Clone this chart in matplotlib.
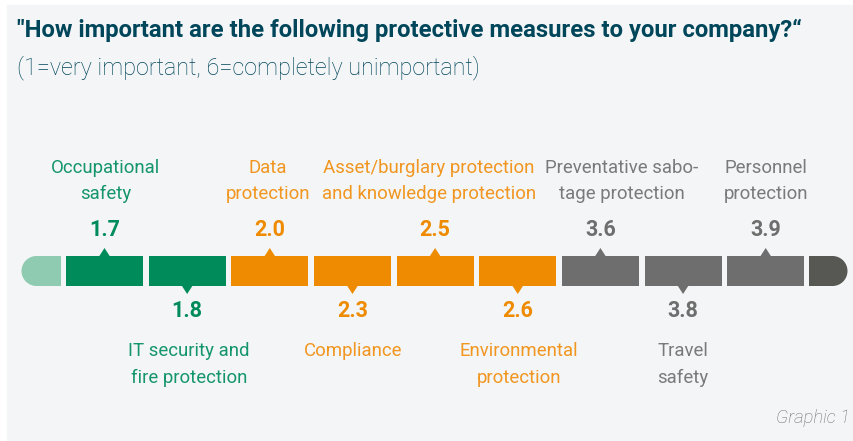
import matplotlib
matplotlib.use("Agg")
import matplotlib.pyplot as plt
from matplotlib.patches import Rectangle, Wedge, Polygon
import numpy as np

# ---- data ----
categories = [
    "Occupational\nsafety",
    "IT security and\nfire protection",
    "Data\nprotection",
    "Compliance",
    "Asset/burglary protection\nand knowledge protection",
    "Environmental\nprotection",
    "Preventative sabo-\ntage protection",
    "Travel\nsafety",
    "Personnel\nprotection",
]
values = [1.7, 1.8, 2.0, 2.3, 2.5, 2.6, 3.6, 3.8, 3.9]
groups = ["green", "green", "orange", "orange", "orange", "orange", "grey", "grey", "grey"]
title = "\"How important are the following protective measures to your company?\u201c"
subtitle = "(1=very important, 6=completely unimportant)"
footnote = "Graphic 1"

# ---- style ----
seg_colors = {"green": "#008B5A", "orange": "#EE8B00", "grey": "#6E6E6E"}
txt_colors = {"green": "#15966A", "orange": "#F19620", "grey": "#7A7A7A"}
cap_left_color = "#8FCBB0"
cap_right_color = "#575754"
bg = "#F4F5F7"
title_color = "#00465A"

X0, PITCH, W = 66.0, 82.65, 77.0
BAR_TOP, BAR_H = 256.0, 30.0
label_dx = [1, 2, -2, 1, -6, 1, 21, 0, 0]

LABEL_FONT = ["Roboto", "DejaVu Sans"]

fig = plt.figure(figsize=(8.54, 4.41), dpi=100, facecolor="white")
ax = fig.add_axes([0, 0, 1, 1])
ax.set_xlim(0, 854)
ax.set_ylim(441, 0)
ax.axis("off")

ax.add_patch(Rectangle((7, 5), 847, 436, color=bg, zorder=0))

xs = X0 + PITCH * np.arange(len(values))
cols = [seg_colors[g] for g in groups]
ax.bar(xs, BAR_H, width=W, bottom=BAR_TOP, align="edge", color=cols, zorder=2)

yc = BAR_TOP + BAR_H / 2
r = BAR_H / 2
# left cap
ax.add_patch(Rectangle((36, BAR_TOP), 25, BAR_H, color=cap_left_color, zorder=2, lw=0))
ax.add_patch(Wedge((36.5, yc), r, 90, 270, color=cap_left_color, zorder=2, lw=0))
# right cap
ax.add_patch(Rectangle((809, BAR_TOP), 24, BAR_H, color=cap_right_color, zorder=2, lw=0))
ax.add_patch(Wedge((832.5, yc), r, -90, 90, color=cap_right_color, zorder=2, lw=0))

for i, (x, v, g, cat) in enumerate(zip(xs, values, groups, categories)):
    cx = x + W / 2
    up = (i % 2 == 0)
    if up:
        tri = [(cx - 5.5, BAR_TOP + 0.5), (cx + 5.5, BAR_TOP + 0.5), (cx, BAR_TOP - 8)]
        vy = 230
        ly = [168, 194]
    else:
        tri = [(cx - 5.5, BAR_TOP + BAR_H - 0.5), (cx + 5.5, BAR_TOP + BAR_H - 0.5), (cx, BAR_TOP + BAR_H + 8)]
        vy = 311
        ly = [351, 378]
    ax.add_patch(Polygon(tri, closed=True, color=seg_colors[g], zorder=3, lw=0))
    ax.text(cx, vy, f"{v:.1f}", ha="center", va="center", fontsize=15.5,
            fontweight="bold", color=seg_colors[g], family=LABEL_FONT)
    for j, line in enumerate(cat.split("\n")):
        ax.text(cx + label_dx[i], ly[j], line, ha="center", va="center",
                fontsize=13.4, fontweight="normal", color=txt_colors[g], family=LABEL_FONT)

ax.text(17, 30, title, ha="left", va="center", fontsize=17.2, fontweight="bold",
        color=title_color, family=LABEL_FONT)
ax.text(17, 68, subtitle, ha="left", va="center", fontsize=16.8, fontweight="light",
        color=title_color, family=LABEL_FONT)
ax.text(850, 418, footnote, ha="right", va="center", fontsize=13.2, style="italic",
        fontweight="light", color="#6E6E6E", family=LABEL_FONT)

fig.savefig("out.png", dpi=100, facecolor="white")
